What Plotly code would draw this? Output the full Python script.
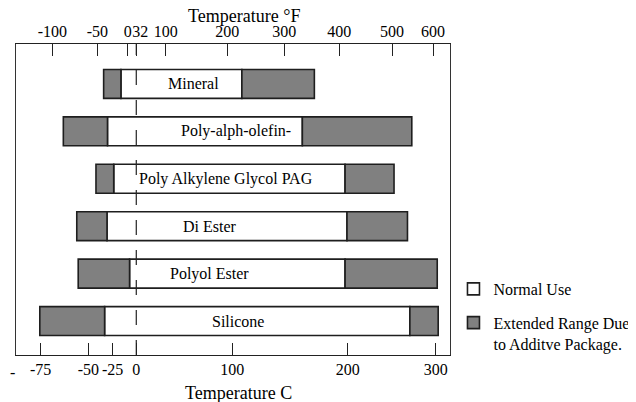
import plotly.graph_objects as go

# ---- data (axis units: nominal degrees C on the drawn scale) ----
lubricants = ["Mineral", "Poly-alph-olefin-", "Poly Alkylene Glycol PAG",
              "Di Ester", "Polyol Ester", "Silicone"]
ext_low = [-34, -76, -42, -62, -60.5, -100.5]
normal_low = [-16, -30, -23.5, -30.5, -7, -33]
normal_high = [110, 173, 217.5, 219.5, 217.5, 285]
ext_high = [185.5, 287, 268.5, 282.5, 313.5, 314.5]

c_tick_pos = [-99.6, -50, -24.6, 0, 100, 220.2, 311.9]
c_tick_text = ["-75", "-50", "-25", "0", "100", "200", "300"]
f_tick_pos = [-87.5, -40.6, -9, 0, 30.6, 94.8, 154.2, 211.5, 266.4, 309.1]
f_tick_text = ["-100", "-50", "0", "&nbsp;&nbsp;32", "100", "200", "300", "400", "500", "600"]

label_x = [60, 104, 93.5, 77, 76, 105.5]

FONT = "Liberation Serif"
EDGE = "#1e1e1e"
GRAY = "#808080"
XR = [-125.3, 326.8]

fig = go.Figure()

fig.add_trace(go.Bar(
    y=lubricants,
    x=[h - l for l, h in zip(normal_low, normal_high)],
    base=normal_low,
    orientation="h",
    width=0.61,
    marker=dict(color="white", line=dict(color=EDGE, width=1.6)),
    name="Normal Use",
    legendgroup="normal",
    hoverinfo="skip",
))

ext_y = lubricants + lubricants
ext_base = ext_low + normal_high
ext_len = [nl - el for el, nl in zip(ext_low, normal_low)] + \
          [eh - nh for nh, eh in zip(normal_high, ext_high)]
fig.add_trace(go.Bar(
    y=ext_y,
    x=ext_len,
    base=ext_base,
    orientation="h",
    width=0.61,
    marker=dict(color=GRAY, line=dict(color=EDGE, width=1.6)),
    name="Extended Range Due<br>to Additve Package.",
    legendgroup="extended",
    hoverinfo="skip",
))

# invisible trace to activate the top axis
fig.add_trace(go.Scatter(x=[XR[0]], y=[lubricants[0]], xaxis="x2",
                         mode="markers", marker=dict(opacity=0),
                         showlegend=False, hoverinfo="skip"))

annotations = []
for name, lx in zip(lubricants, label_x):
    annotations.append(dict(x=lx, y=name, xref="x", yref="y", text=name,
                            showarrow=False,
                            font=dict(family=FONT, size=16, color="black")))
annotations.append(dict(x=-0.0184, y=-0.0547, xref="paper", yref="paper",
                        xanchor="left", yanchor="middle",
                        text="-", showarrow=False,
                        font=dict(family=FONT, size=16, color="black")))
annotations.append(dict(x=0.525, y=1.0903, xref="paper", yref="paper",
                        xanchor="center", yanchor="middle",
                        text="Temperature °F", showarrow=False,
                        font=dict(family=FONT, size=18, color="black")))
annotations.append(dict(x=0.5138, y=-0.1222, xref="paper", yref="paper",
                        xanchor="center", yanchor="middle",
                        text="Temperature C", showarrow=False,
                        font=dict(family=FONT, size=18, color="black")))
fig.update_layout(annotations=annotations)

fig.add_shape(type="line", x0=0, x1=0, y0=0, y1=1, xref="x", yref="paper",
              layer="above",
              line=dict(color="#222222", width=1.2, dash="15px,15px"))

# page body has an 8px margin, so the figure is laid out 8px smaller
fig.update_layout(
    width=628, height=394,
    margin=dict(l=8, r=186, t=36, b=47, autoexpand=False),
    paper_bgcolor="white", plot_bgcolor="white",
    barmode="overlay",
    font=dict(family=FONT, size=16, color="black"),
    xaxis=dict(range=XR, tickmode="array", tickvals=c_tick_pos,
               ticktext=c_tick_text, ticks="inside", ticklen=12,
               tickangle=0, automargin=False,
               tickcolor="#222", showgrid=False, zeroline=False,
               showline=True, linecolor="#222", linewidth=1,
               tickfont=dict(family=FONT, size=16)),
    xaxis2=dict(range=XR, overlaying="x", side="top", tickmode="array",
                tickvals=f_tick_pos, ticktext=f_tick_text,
                ticks="inside", ticklen=12, tickcolor="#222",
                tickangle=0, automargin=False,
                showgrid=False, zeroline=False, showline=True,
                linecolor="#222", linewidth=1,
                tickfont=dict(family=FONT, size=16)),
    yaxis=dict(type="category", categoryorder="array",
               categoryarray=lubricants, range=[5.716, -0.842],
               showticklabels=False, ticks="", showgrid=False,
               zeroline=False, showline=True, mirror=True,
               automargin=False,
               linecolor="#333", linewidth=1),
    legend=dict(x=1.008, xanchor="left", y=0.267, yanchor="top",
                font=dict(family=FONT, size=16), valign="top",
                bgcolor="rgba(0,0,0,0)", traceorder="grouped",
                tracegroupgap=10),
    showlegend=True,
)

fig.write_html("out.html")
